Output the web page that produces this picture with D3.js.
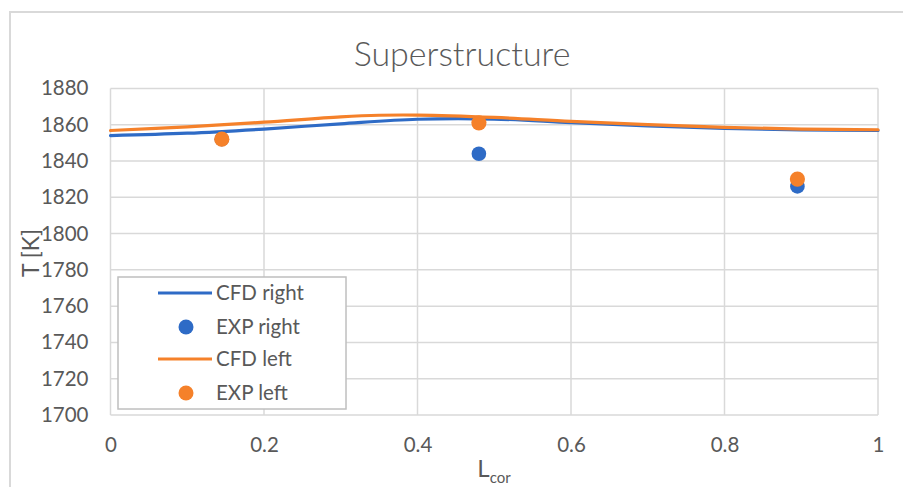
<!DOCTYPE html>
<html>
<head>
<meta charset="utf-8">
<script src="https://cdn.jsdelivr.net/npm/d3@7"></script>
<style>
  html, body { margin: 0; padding: 0; background: #fff; }
  svg { display: block; }
  text { font-family: Lato, "Open Sans", sans-serif; fill: #595959; }
</style>
</head>
<body>
<svg id="chart" width="903" height="487"></svg>
<script>
// ---- Data ----
const title = "Superstructure";
const xTicks = [0, 0.2, 0.4, 0.6, 0.8, 1];
const yTicks = [1700, 1720, 1740, 1760, 1780, 1800, 1820, 1840, 1860, 1880];

const cfdRightX = [0, 0.1, 0.2, 0.3, 0.4, 0.5, 0.6, 0.7, 0.8, 0.9, 1.0];
const cfdRightY = [1854.0, 1855.3, 1857.6, 1860.5, 1863.0, 1863.1, 1861.1, 1859.3, 1857.9, 1857.1, 1856.8];

const cfdLeftX = [0, 0.1, 0.2, 0.3, 0.35, 0.4, 0.5, 0.6, 0.7, 0.8, 0.9, 1.0];
const cfdLeftY = [1856.8, 1858.8, 1861.4, 1864.3, 1865.2, 1865.3, 1864.0, 1861.8, 1860.0, 1858.5, 1857.6, 1857.2];

const expRightX = [0.145, 0.48, 0.895];
const expRightY = [1852, 1844, 1826];

const expLeftX = [0.145, 0.48, 0.895];
const expLeftY = [1852, 1861, 1830];

const legendLabels = ["CFD right", "EXP right", "CFD left", "EXP left"];

// ---- Styles ----
const BLUE = "#2e6bc6";
const ORANGE = "#f5812a";
const GRID = "#d9d9d9";

const svg = d3.select("#chart");

// outer chart border
svg.append("path")
  .attr("d", "M10,490 L10,12 L910,12")
  .attr("fill", "none")
  .attr("stroke", "#d9d9d9")
  .attr("stroke-width", 2);

const x = d3.scaleLinear().domain([0, 1]).range([110.5, 878]);
const y = d3.scaleLinear().domain([1700, 1880]).range([415, 88.4]);

// gridlines
const grid = svg.append("g");
grid.selectAll("line.h").data(yTicks).join("line")
  .attr("x1", x(0)).attr("x2", x(1))
  .attr("y1", d => y(d)).attr("y2", d => y(d))
  .attr("stroke", GRID).attr("stroke-width", 1.5);
grid.selectAll("line.v").data(xTicks).join("line")
  .attr("y1", y(1700)).attr("y2", y(1880))
  .attr("x1", d => x(d)).attr("x2", d => x(d))
  .attr("stroke", GRID).attr("stroke-width", 1.5);

// axes (labels only, via d3 axes)
const yAxis = d3.axisLeft(y).tickValues(yTicks).tickSize(0).tickPadding(22).tickFormat(d3.format("d"));
const gy = svg.append("g").attr("transform", `translate(${x(0)},0)`).call(yAxis);
gy.select(".domain").remove();
gy.selectAll("text").attr("font-size", 20.5).attr("fill", "#595959")
  .style("font-family", "Lato, 'Open Sans', sans-serif");

const xAxis = d3.axisBottom(x).tickValues(xTicks).tickSize(0).tickPadding(22).tickFormat(d => d === 0 || d === 1 ? String(d) : d3.format(".1f")(d));
const gx = svg.append("g").attr("transform", `translate(0,${y(1700)})`).call(xAxis);
gx.select(".domain").remove();
gx.selectAll("text").attr("font-size", 20.5).attr("fill", "#595959")
  .style("font-family", "Lato, 'Open Sans', sans-serif");

// CFD lines
const line = d3.line().x(d => x(d[0])).y(d => y(d[1])).curve(d3.curveCatmullRom.alpha(0.5));
const rightPts = cfdRightX.map((v, i) => [v, cfdRightY[i]]);
const leftPts = cfdLeftX.map((v, i) => [v, cfdLeftY[i]]);

svg.append("path").datum(rightPts).attr("d", line)
  .attr("fill", "none").attr("stroke", BLUE).attr("stroke-width", 3.2).attr("stroke-linecap", "round");
svg.append("path").datum(leftPts).attr("d", line)
  .attr("fill", "none").attr("stroke", ORANGE).attr("stroke-width", 3.2).attr("stroke-linecap", "round");

// EXP points
svg.append("g").selectAll("circle").data(expRightX.map((v, i) => [v, expRightY[i]])).join("circle")
  .attr("cx", d => x(d[0])).attr("cy", d => y(d[1])).attr("r", 7.3).attr("fill", BLUE);
svg.append("g").selectAll("circle").data(expLeftX.map((v, i) => [v, expLeftY[i]])).join("circle")
  .attr("cx", d => x(d[0])).attr("cy", d => y(d[1])).attr("r", 7.6).attr("fill", ORANGE);

// title
svg.append("text").attr("x", 462).attr("y", 66).attr("text-anchor", "middle")
  .attr("font-size", 34).attr("font-weight", 300).text(title);

// axis titles
svg.append("text").attr("transform", "translate(39,253) rotate(-90)")
  .attr("text-anchor", "middle").attr("font-size", 23).text("T [K]");

const xt = svg.append("text").attr("x", 494).attr("y", 477).attr("text-anchor", "middle").attr("font-size", 24);
xt.append("tspan").text("L");
xt.append("tspan").attr("font-size", 15).attr("dy", 6).text("cor");

// legend
const lg = svg.append("g");
lg.append("rect").attr("x", 118).attr("y", 277).attr("width", 228).attr("height", 132)
  .attr("fill", "#fff").attr("stroke", "#bfbfbf").attr("stroke-width", 1.5);
const rowY = [293, 327, 359, 393];
const kinds = ["line", "dot", "line", "dot"];
const cols = [BLUE, BLUE, ORANGE, ORANGE];
legendLabels.forEach((lab, i) => {
  if (kinds[i] === "line") {
    lg.append("line").attr("x1", 158).attr("x2", 212).attr("y1", rowY[i]).attr("y2", rowY[i])
      .attr("stroke", cols[i]).attr("stroke-width", 3.2);
  } else {
    lg.append("circle").attr("cx", 186).attr("cy", rowY[i]).attr("r", 7.5).attr("fill", cols[i]);
  }
  lg.append("text").attr("x", 216).attr("y", rowY[i]).attr("dy", "0.35em")
    .attr("font-size", 20.5).text(lab);
});
</script>
</body>
</html>
